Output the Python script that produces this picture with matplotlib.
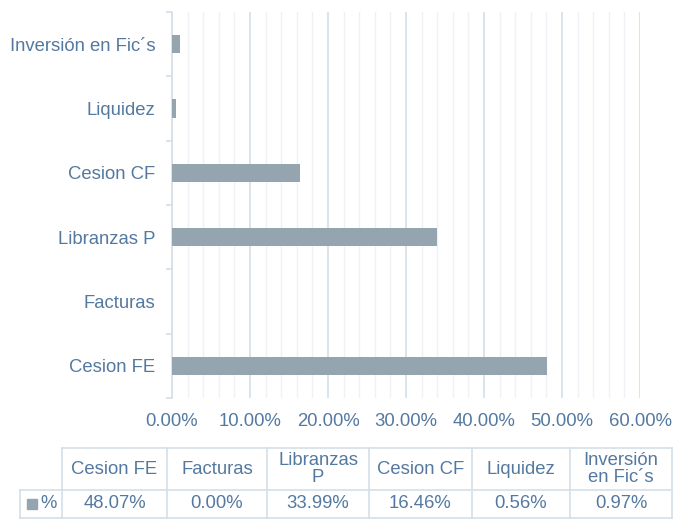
import numpy as np
import matplotlib.pyplot as plt
from matplotlib.ticker import MultipleLocator, FuncFormatter
from matplotlib.lines import Line2D
from matplotlib.patches import Rectangle

plt.rcParams['font.family'] = ['Liberation Sans', 'DejaVu Sans']

# Data (bottom to top as drawn)
categories = ['Cesion FE', 'Facturas', 'Libranzas P', 'Cesion CF', 'Liquidez', 'Inversión en Fic´s']
table_headers = ['Cesion FE', 'Facturas', 'Libranzas\nP', 'Cesion CF', 'Liquidez', 'Inversión\nen Fic´s']
values = [48.07, 0.00, 33.99, 16.46, 0.56, 0.97]
series_name = '%'

TEXT = '#5479A0'
BAR = '#95A5B0'
GRID_MAJOR = '#D6DFE8'
GRID_MINOR = '#EEF2F6'
FS = 13.3
W, H = 673, 520

fig = plt.figure(figsize=(W / 100, H / 100), dpi=100)
ax = fig.add_axes([172 / W, 1 - 398 / H, (640 - 172) / W, (398 - 12) / H])

y = np.arange(len(categories))
ax.barh(y, values, height=0.28, color=BAR, zorder=3)

ax.set_xlim(0, 60)
ax.set_ylim(-0.5, len(categories) - 0.5)
ax.xaxis.set_major_locator(MultipleLocator(10))
ax.xaxis.set_minor_locator(MultipleLocator(2))
ax.xaxis.set_major_formatter(FuncFormatter(lambda v, p: f'{v:.2f}%'))
ax.grid(axis='x', which='major', color=GRID_MAJOR, lw=1.2, zorder=0)
ax.grid(axis='x', which='minor', color=GRID_MINOR, lw=1.0, zorder=0)
ax.tick_params(axis='x', which='both', length=0, colors=TEXT, labelsize=FS, pad=11)

ax.set_yticks(np.arange(-0.5, len(categories), 1.0), minor=False)
ax.set_yticklabels([])
ax.set_yticks(y, minor=True)
ax.set_yticklabels(categories, minor=True)
ax.tick_params(axis='y', which='major', length=4, color=GRID_MAJOR, width=1.2)
ax.tick_params(axis='y', which='minor', length=0, colors=TEXT, labelsize=FS, pad=12)

for s in ['top', 'right', 'bottom']:
    ax.spines[s].set_visible(False)
ax.spines['left'].set_color(GRID_MAJOR)
ax.spines['left'].set_linewidth(1.2)

# Data table below the chart
def fx(px):
    return px / W

def fy(py):
    return 1 - py / H

col_edges = [62, 167, 267, 369, 472, 570, 672]
top, mid, bot = 448, 490, 518
lc = GRID_MAJOR
fig.add_artist(Line2D([fx(62), fx(672)], [fy(top), fy(top)], color=lc, lw=1.2))
fig.add_artist(Line2D([fx(20), fx(672)], [fy(mid), fy(mid)], color=lc, lw=1.2))
fig.add_artist(Line2D([fx(20), fx(672)], [fy(bot), fy(bot)], color=lc, lw=1.2))
fig.add_artist(Line2D([fx(20), fx(20)], [fy(mid), fy(bot)], color=lc, lw=1.2))
for xe in col_edges:
    fig.add_artist(Line2D([fx(xe), fx(xe)], [fy(top), fy(bot)], color=lc, lw=1.2))

for i, (hdr, val) in enumerate(zip(table_headers, values)):
    xc = (col_edges[i] + col_edges[i + 1]) / 2
    fig.text(fx(xc), fy((top + mid) / 2), hdr, ha='center', va='center',
             color=TEXT, fontsize=FS, linespacing=1.0)
    fig.text(fx(xc), fy((mid + bot) / 2), f'{val:.2f}%', ha='center', va='center',
             color=TEXT, fontsize=FS)

fig.add_artist(Rectangle((fx(27), fy(509)), fx(10), 10 / H, color=BAR))
fig.text(fx(40), fy((mid + bot) / 2), series_name, ha='left', va='center',
         color=TEXT, fontsize=FS)

fig.savefig('out.png', dpi=100)
